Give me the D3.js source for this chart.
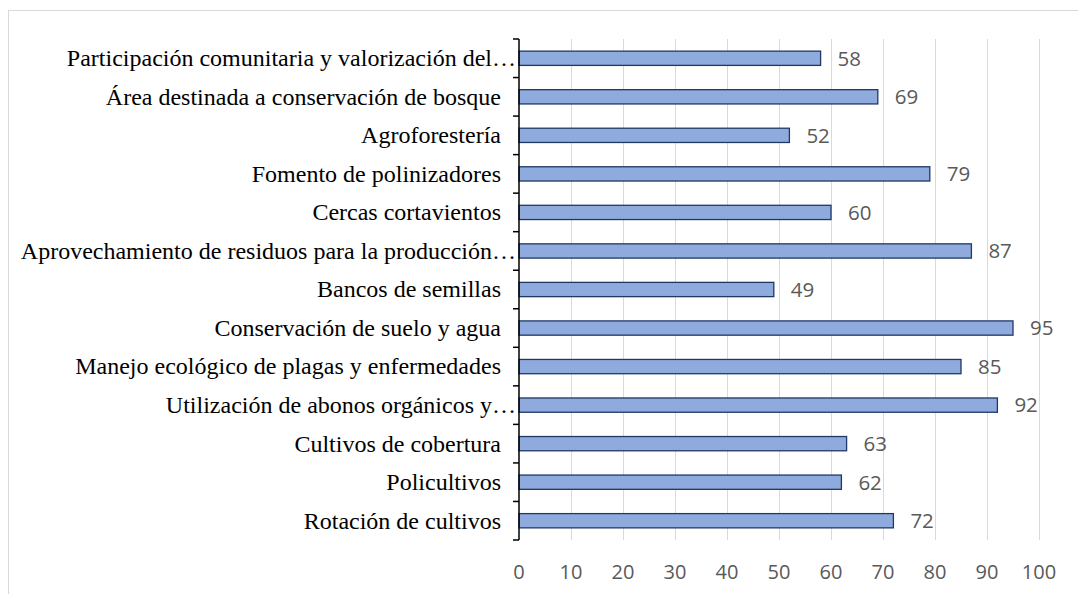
<!DOCTYPE html>
<html><head><meta charset="utf-8">
<script src="https://cdn.jsdelivr.net/npm/d3@7"></script>
<style>body{margin:0;background:#fff;}svg{display:block;}</style>
</head><body>
<svg id="c" width="1078" height="594"></svg>
<script>
const categories = [
  "Participación comunitaria y valorización del…",
  "Área destinada a conservación de bosque",
  "Agroforestería",
  "Fomento de polinizadores",
  "Cercas cortavientos",
  "Aprovechamiento de residuos para la producción…",
  "Bancos de semillas",
  "Conservación de suelo y agua",
  "Manejo ecológico de plagas y enfermedades",
  "Utilización de abonos orgánicos y…",
  "Cultivos de cobertura",
  "Policultivos",
  "Rotación de cultivos"
];
const values = [58, 69, 52, 79, 60, 87, 49, 95, 85, 92, 63, 62, 72];
const xTicks = [0, 10, 20, 30, 40, 50, 60, 70, 80, 90, 100];

(function () {
const svg = d3.select("#c");
svg.append("rect").attr("x", 8.5).attr("y", 10.5).attr("width", 1100).attr("height", 600)
  .attr("fill", "none").attr("stroke", "#d9d9d9").attr("stroke-width", 1);

const pL = 519, pR = 1039, pT = 39, pB = 540;
const x = d3.scaleLinear().domain([0, 100]).range([pL, pR]);
const y = d3.scaleBand().domain(categories).range([pT, pB]).paddingInner(0.63).paddingOuter(0.315);

svg.append("g").selectAll("line").data(xTicks.slice(1)).join("line")
  .attr("x1", d => Math.round(x(d)) + 0.5).attr("x2", d => Math.round(x(d)) + 0.5)
  .attr("y1", pT).attr("y2", pB)
  .attr("stroke", "#d9d9d9").attr("stroke-width", 1);

svg.append("g").selectAll("rect").data(values).join("rect")
  .attr("x", x(0)).attr("y", (d, i) => y(categories[i]))
  .attr("width", d => x(d) - x(0)).attr("height", y.bandwidth())
  .attr("fill", "#8faadc").attr("stroke", "#1f3864").attr("stroke-width", 1.3);

const yAxisG = svg.append("g").attr("transform", `translate(${pL},0)`);
yAxisG.append("line").attr("x1", 0).attr("x2", 0).attr("y1", pT).attr("y2", pB)
  .attr("stroke", "#000").attr("stroke-width", 1.5);
const bounds = d3.range(categories.length + 1).map(i => pT + i * (pB - pT) / categories.length);
yAxisG.selectAll("line.tk").data(bounds).join("line").attr("class", "tk")
  .attr("x1", -6).attr("x2", 0).attr("y1", d => d).attr("y2", d => d)
  .attr("stroke", "#000").attr("stroke-width", 1.5);

svg.append("g").selectAll("text").data(categories).join("text")
  .attr("x", d => d.endsWith("…") ? 516 : 501)
  .attr("y", d => y(d) + y.bandwidth() / 2)
  .attr("dy", "0.33em").attr("text-anchor", "end")
  .attr("font-family", "Liberation Serif, Times New Roman, serif")
  .attr("font-size", 24).attr("fill", "#000")
  .text(d => d);

svg.append("g").selectAll("text").data(values).join("text")
  .attr("x", d => x(d) + 17)
  .attr("y", (d, i) => y(categories[i]) + y.bandwidth() / 2)
  .attr("dy", "0.36em")
  .attr("font-family", "Open Sans, Liberation Sans, sans-serif")
  .attr("font-size", 20.5).attr("fill", "#595959")
  .text(d => d);

svg.append("g").selectAll("text").data(xTicks).join("text")
  .attr("x", d => x(d)).attr("y", 579)
  .attr("text-anchor", "middle")
  .attr("font-family", "Open Sans, Liberation Sans, sans-serif")
  .attr("font-size", 20).attr("fill", "#595959")
  .text(d => d);
})();
</script>
</body></html>
